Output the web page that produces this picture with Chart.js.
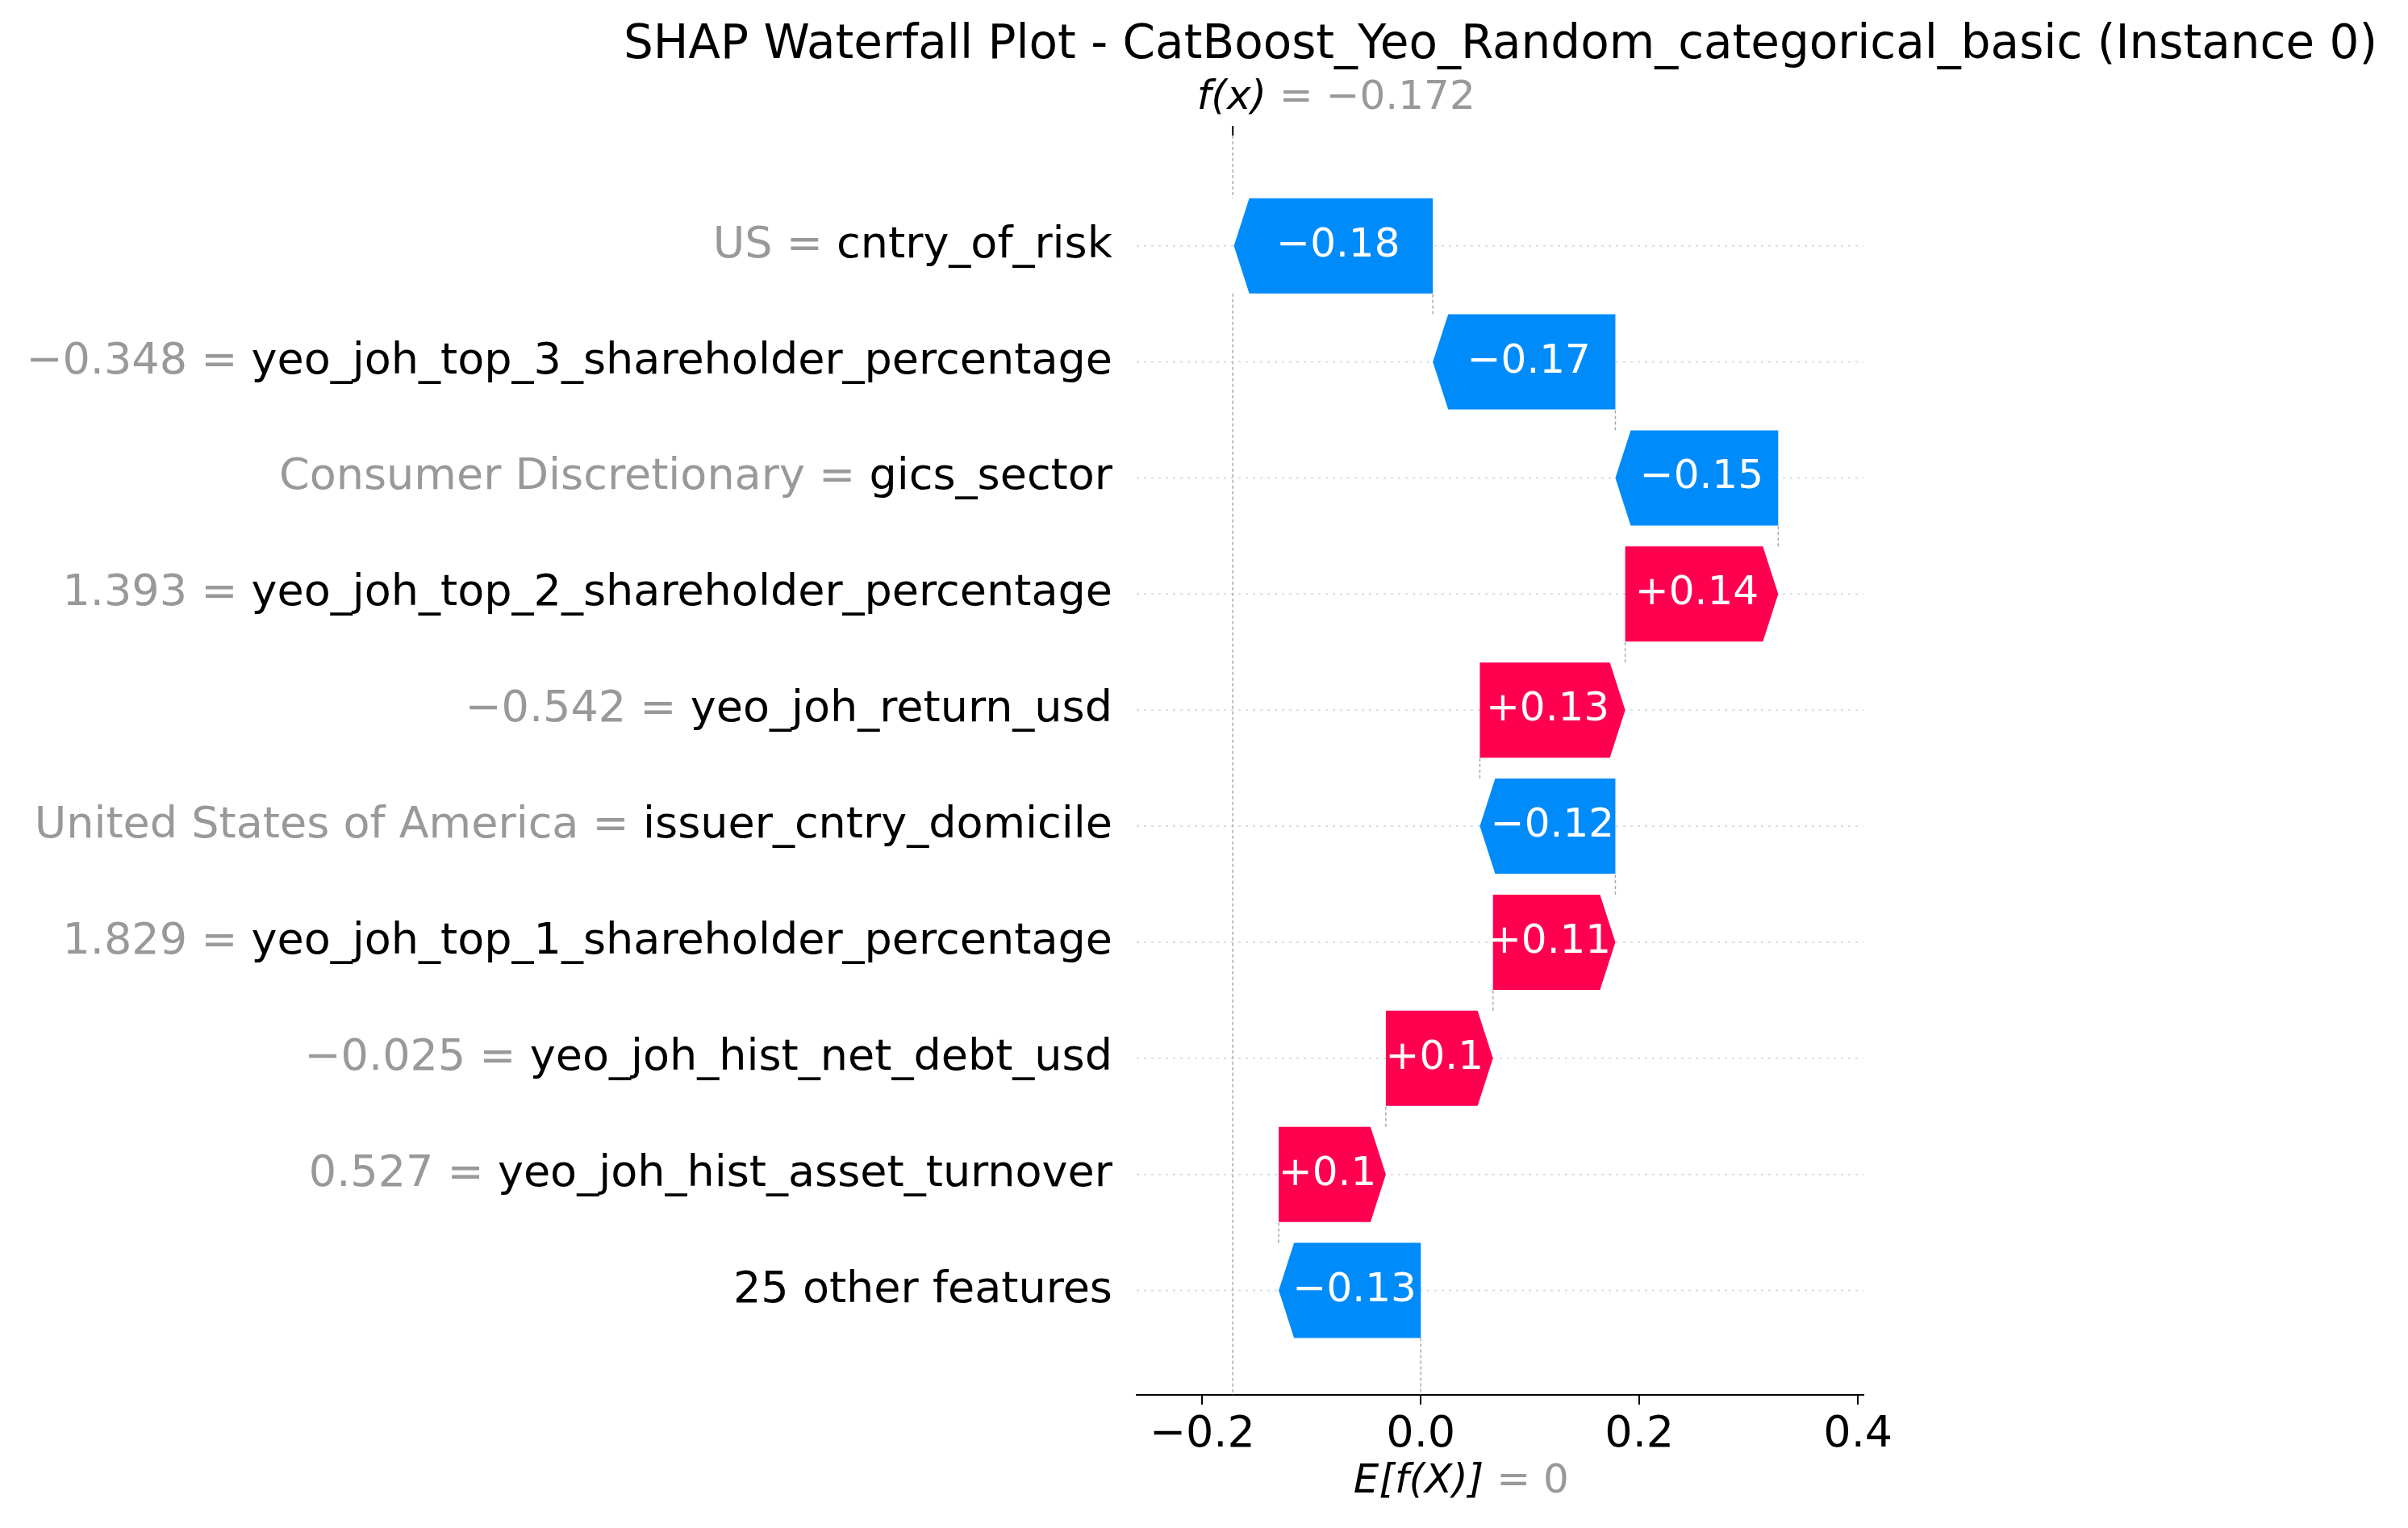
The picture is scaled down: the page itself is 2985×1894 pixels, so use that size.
<!DOCTYPE html>
<html><head><meta charset="utf-8">
<script src="https://cdn.jsdelivr.net/npm/chart.js@4"></script>
<style>html,body{margin:0;padding:0;background:#fff}#wrap{width:2985px;height:1894px}</style>
</head><body><div id="wrap"><canvas id="c" width="2985" height="1894"></canvas></div>
<script>
// top to bottom
const featureValues = ["US", "\u22120.348", "Consumer Discretionary", "1.393", "\u22120.542", "United States of America", "1.829", "\u22120.025", "0.527", ""];
const featureNames = ["cntry_of_risk", "yeo_joh_top_3_shareholder_percentage", "gics_sector", "yeo_joh_top_2_shareholder_percentage", "yeo_joh_return_usd", "issuer_cntry_domicile", "yeo_joh_top_1_shareholder_percentage", "yeo_joh_hist_net_debt_usd", "yeo_joh_hist_asset_turnover", "25 other features"];
const shapValues = [-0.182, -0.167, -0.149, 0.140, 0.133, -0.124, 0.112, 0.098, 0.098, -0.130];
const barLabels = ["\u22120.18", "\u22120.17", "\u22120.15", "+0.14", "+0.13", "\u22120.12", "+0.11", "+0.1", "+0.1", "\u22120.13"];
const baseValue = 0;
const fx = -0.172;
const xTicks = [-0.2, 0, 0.2, 0.4];
const xTickLabels = ["\u22120.2", "0.0", "0.2", "0.4"];

const RED = "#ff0051", BLUE = "#008bfb";
const FONT = "'DejaVu Sans', sans-serif";

// cumulative from the bottom row up
const ranges = new Array(shapValues.length);
let acc = baseValue;
for (let i = shapValues.length - 1; i >= 0; i--) {
  ranges[i] = [acc, acc + shapValues[i]];
  acc += shapValues[i];
}

const waterfall = {
  id: "waterfall",
  afterDraw(chart) {
    const c = chart.ctx, xs = chart.scales.x, ys = chart.scales.y, a = chart.chartArea;
    const meta = chart.getDatasetMeta(0);
    c.save();
    // dotted row lines
    c.strokeStyle = "#dddddd"; c.lineWidth = 2; c.setLineDash([3, 6]);
    ranges.forEach((r, i) => {
      const y = ys.getPixelForValue(i);
      c.beginPath(); c.moveTo(a.left, y); c.lineTo(a.right, y); c.stroke();
    });
    // connectors
    c.strokeStyle = "#aaaaaa"; c.lineWidth = 1.5; c.setLineDash([4, 3]);
    const h = meta.data[0].height;
    for (let i = 1; i < ranges.length; i++) {
      const x = xs.getPixelForValue(ranges[i][1]);
      c.beginPath(); c.moveTo(x, ys.getPixelForValue(i) - h / 2); c.lineTo(x, ys.getPixelForValue(i - 1) + h / 2); c.stroke();
    }
    // f(x) and E lines
    const xf = xs.getPixelForValue(fx), xe = xs.getPixelForValue(baseValue);
    c.beginPath(); c.moveTo(xf, a.top); c.lineTo(xf, ys.getPixelForValue(0) - h / 2); c.stroke();
    c.beginPath(); c.moveTo(xf, ys.getPixelForValue(0) + h / 2); c.lineTo(xf, a.bottom); c.stroke();
    c.beginPath(); c.moveTo(xe, ys.getPixelForValue(9) + h / 2); c.lineTo(xe, a.bottom); c.stroke();
    c.setLineDash([]);
    c.strokeStyle = "#000"; c.lineWidth = 2;
    c.beginPath(); c.moveTo(xf, a.top); c.lineTo(xf, a.top - 12); c.stroke();
    // arrows
    meta.data.forEach((bar, i) => {
      const [s, e] = ranges[i];
      const x0 = xs.getPixelForValue(s), x1 = xs.getPixelForValue(e);
      const y = ys.getPixelForValue(i), hh = bar.height / 2;
      const dir = x1 > x0 ? 1 : -1;
      const head = Math.min(19, Math.abs(x1 - x0));
      c.fillStyle = shapValues[i] > 0 ? RED : BLUE;
      c.beginPath();
      c.moveTo(x0, y - hh); c.lineTo(x1 - dir * head, y - hh); c.lineTo(x1, y);
      c.lineTo(x1 - dir * head, y + hh); c.lineTo(x0, y + hh); c.closePath(); c.fill();
      c.fillStyle = "#fff"; c.font = "50px " + FONT; c.textAlign = "center"; c.textBaseline = "middle";
      c.fillText(barLabels[i], (x0 + x1) / 2 - dir * 6, y);
    });
    // feature labels
    c.font = "54px " + FONT; c.textBaseline = "middle"; c.textAlign = "left";
    const rightX = a.left - 30;
    ranges.forEach((r, i) => {
      const y = ys.getPixelForValue(i);
      const name = featureNames[i];
      const pre = featureValues[i] ? featureValues[i] + " = " : "";
      const wn = c.measureText(name).width, wp = c.measureText(pre).width;
      c.fillStyle = "#999999"; c.fillText(pre, rightX - wn - wp, y);
      c.fillStyle = "#000"; c.fillText(name, rightX - wn, y);
    });
    // top and bottom annotations
    c.textAlign = "left";
    const t1 = "f(x)", t2 = " = \u22120.172";
    c.font = "italic 50px " + FONT; const w1 = c.measureText(t1).width;
    c.font = "50px " + FONT; const w2 = c.measureText(t2).width;
    let sx = xf - (w1 + w2) / 2 + 128;
    c.font = "italic 50px " + FONT; c.fillStyle = "#000"; c.fillText(t1, sx, 122);
    c.font = "50px " + FONT; c.fillStyle = "#999999"; c.fillText(t2, sx + w1, 122);
    const b1 = "E[f(X)]", b2 = " = 0";
    c.font = "italic 50px " + FONT; const v1 = c.measureText(b1).width;
    c.font = "50px " + FONT; const v2 = c.measureText(b2).width;
    sx = xe - (v1 + v2) / 2 + 50;
    c.font = "italic 50px " + FONT; c.fillStyle = "#000"; c.fillText(b1, sx, 1837);
    c.font = "50px " + FONT; c.fillStyle = "#999999"; c.fillText(b2, sx + v1, 1837);
    // title
    c.fillStyle = "#000"; c.textAlign = "center"; c.font = "58px " + FONT;
    c.fillText("SHAP Waterfall Plot - CatBoost_Yeo_Random_categorical_basic (Instance 0)", 1860, 57);
    c.restore();
  }
};

new Chart(document.getElementById("c"), {
  type: "bar",
  data: {
    datasets: [{
      data: ranges.map((r, i) => ({ x: r, y: i })),
      backgroundColor: "rgba(0,0,0,0)",
      barThickness: 118
    }]
  },
  options: {
    indexAxis: "y",
    responsive: false,
    animation: false,
    layout: { padding: { left: 1409, right: 675, top: 168, bottom: 0 } },
    plugins: { legend: { display: false }, tooltip: { enabled: false } },
    scales: {
      y: { type: "linear", reverse: true, offset: false, min: -0.95, max: 9.9, display: false },
      x: {
        type: "linear", min: -0.26, max: 0.405,
        afterBuildTicks: s => { s.ticks = xTicks.map(v => ({ value: v })); },
        afterFit: s => { s.height = 1894 - 1729; },
        ticks: { font: { family: FONT, size: 54 }, color: "#000", padding: 6,
          callback: (v) => xTickLabels[xTicks.indexOf(v)] },
        grid: { drawOnChartArea: false, drawTicks: true, tickLength: 12, color: "#000", lineWidth: 2 },
        border: { display: true, color: "#000", width: 2 }
      }
    }
  },
  plugins: [waterfall]
});
</script></body></html>
